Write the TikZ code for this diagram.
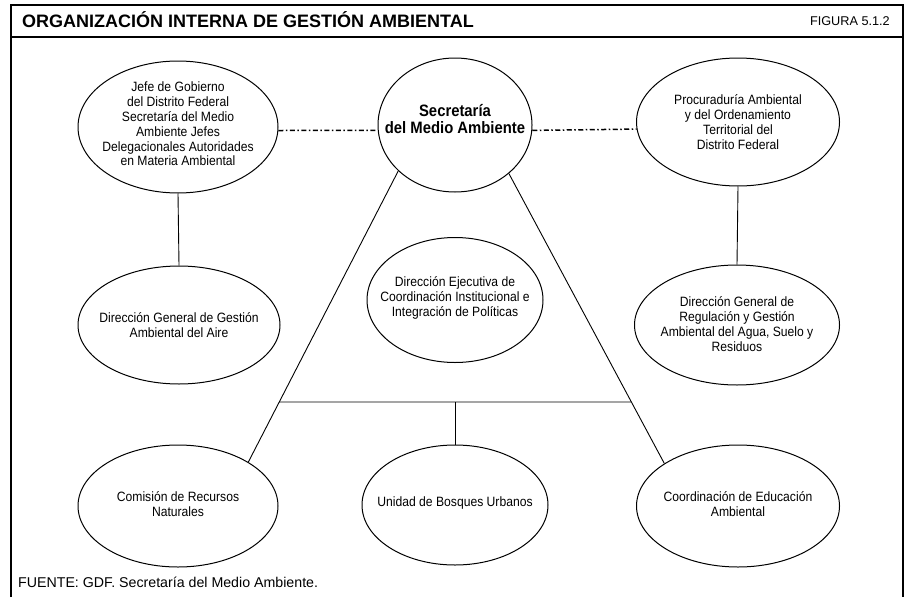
\documentclass[tikz,border=0pt]{standalone}
\usepackage{fontspec}
\setmainfont{Liberation Sans}
\newfontfamily\narrowsans[FakeStretch=0.9]{Liberation Sans}
\usetikzlibrary{shapes.geometric,calc,intersections}
\begin{document}
\begin{tikzpicture}[x=1pt,y=-1pt,
  ell/.style={draw, line width=1pt, ellipse, inner sep=0pt},
  txt/.style={align=center, inner sep=0pt, font=\narrowsans\fontsize{13.5}{14.8}\selectfont},
  conn/.style={line width=0.9pt},
  dd/.style={line width=1.5pt, dash pattern=on 5pt off 2.5pt on 1.5pt off 2.5pt}]
\useasboundingbox (0,0) rectangle (907,597);
% frame
\draw[line width=1.5pt] (11,597) -- (11,5) -- (903,5) -- (903,597);
\draw[line width=2.5pt] (11,37) -- (903,37);
\node[anchor=west, inner sep=0pt, font=\fontsize{18}{20}\selectfont\bfseries] (title) at (22,20) {ORGANIZACIÓN INTERNA DE GESTIÓN AMBIENTAL};
\node[anchor=east, inner sep=0pt, font=\fontsize{12.7}{15}\selectfont] (fig) at (890,21) {FIGURA 5.1.2};
\node[anchor=west, inner sep=0pt, font=\fontsize{14.2}{16}\selectfont] (src) at (18,582) {FUENTE: GDF. Secretaría del Medio Ambiente.};
% ellipses
\node[ell, minimum width=154, minimum height=134] (sec) at (455,125) {};
\node[txt, font=\narrowsans\fontsize{16.5}{17}\selectfont\bfseries] (sect) at (455,119) {Secretaría\\del Medio Ambiente};
\node[ell, minimum width=200, minimum height=132] (jefe) at (178,127) {};
\node[txt] (jefet) at (178,124) {Jefe de Gobierno\\del Distrito Federal\\Secretaría del Medio\\Ambiente Jefes\\Delegacionales Autoridades\\en Materia Ambiental};
\node[ell, minimum width=203, minimum height=128] (proc) at (738,122) {};
\node[txt] (proct) at (738,122) {Procuraduría Ambiental\\y del Ordenamiento\\Territorial del\\Distrito Federal};
\node[ell, minimum width=202, minimum height=118] (aire) at (179,325) {};
\node[txt] (airet) at (179,325) {Dirección General de Gestión\\Ambiental del Aire};
\node[ell, minimum width=176, minimum height=125] (ejec) at (455,300) {};
\node[txt] (eject) at (455,298) {Dirección Ejecutiva de\\Coordinación Institucional e\\Integración de Políticas};
\node[ell, minimum width=205, minimum height=120] (reg) at (737,325) {};
\node[txt] (regt) at (737,324) {Dirección General de\\Regulación y Gestión\\Ambiental del Agua, Suelo y\\Residuos};
\node[ell, minimum width=200, minimum height=122] (com) at (178,506) {};
\node[txt] (comt) at (178,504) {Comisión de Recursos\\Naturales};
\node[ell, minimum width=186, minimum height=120] (uni) at (455,505) {};
\node[txt] (unit) at (455,503) {Unidad de Bosques Urbanos};
\node[ell, minimum width=203, minimum height=122] (coo) at (738,506) {};
\node[txt] (coot) at (738,504) {Coordinación de Educación\\Ambiental};
% connectors
\draw[dd] (jefe.358) -- (sec.184);
\draw[dd] (sec.356) -- (proc.184.5);
\draw[conn] (jefe.south) -- (aire.north);
\draw[conn] (proc.south) -- (reg.north);
\draw[conn, name path=dl] (sec.219) -- (com.32);
\draw[conn, name path=dr] (sec.318.4) -- (coo.150);
\path[name path=hz] (0,402) -- (907,402);
\path[name intersections={of=dl and hz, by=hl}];
\path[name intersections={of=dr and hz, by=hr}];
\draw[conn] (hl) -- (hr);
\draw[conn] (uni.north) -- (uni.north |- hl);
\end{tikzpicture}
\end{document}
